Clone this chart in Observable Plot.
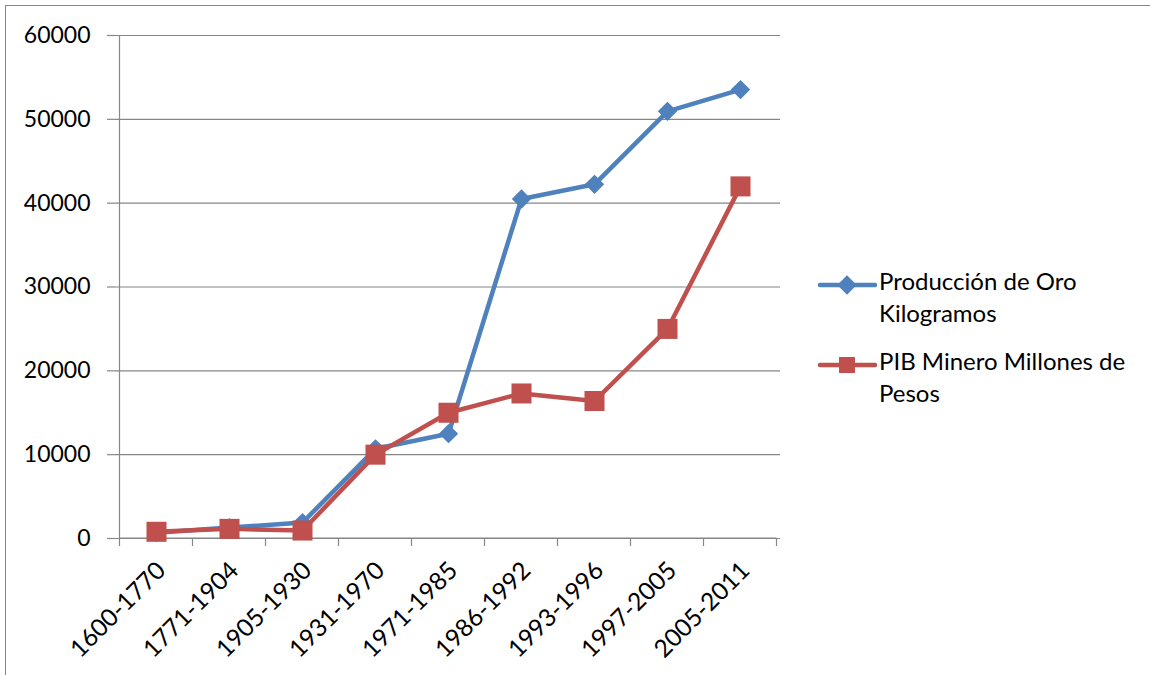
<!DOCTYPE html>
<html>
<head>
<meta charset="utf-8">
<script src="https://cdn.jsdelivr.net/npm/d3@7"></script>
<script src="https://cdn.jsdelivr.net/npm/@observablehq/plot@0.6"></script>
<style>
  html, body { margin: 0; padding: 0; background: #fff; }
  #wrap { position: relative; width: 1150px; height: 675px; overflow: hidden; font-family: Lato, "Open Sans", sans-serif; }
  #border { position: absolute; left: 5px; top: 5px; width: 1200px; height: 700px; border: 1.5px solid #868686; box-sizing: border-box; }
  #chart { position: absolute; left: 0; top: 0; }
  #legend { position: absolute; left: 815px; top: 265px; font-size: 24px; line-height: 32px; color: #000; }
  .item { display: flex; align-items: flex-start; margin-bottom: 16px; }
  .item svg { flex: none; margin-top: 0px; }
  .item span { margin-left: 2px; }
</style>
</head>
<body>
<div id="wrap">
  <div id="border"></div>
  <div id="chart"></div>
  <div id="legend"></div>
</div>
<script>
const categories = ["1600-1770","1771-1904","1905-1930","1931-1970","1971-1985","1986-1992","1993-1996","1997-2005","2005-2011"];
const oro = [700, 1300, 1900, 10700, 12500, 40500, 42250, 50950, 53550];
const pib = [800, 1150, 950, 10000, 15000, 17300, 16400, 25000, 42000];
const yTicks = [0, 10000, 20000, 30000, 40000, 50000, 60000];
const seriesNames = ["Producción de Oro Kilogramos", "PIB Minero Millones de Pesos"];
const legendLines = [["Producción de Oro", "Kilogramos"], ["PIB Minero Millones de", "Pesos"]];
const colors = ["#4F81BD", "#C0504D"];

const oroData = categories.map((c, i) => ({periodo: c, valor: oro[i]}));
const pibData = categories.map((c, i) => ({periodo: c, valor: pib[i]}));

const plot = Plot.plot({
  width: 1150, height: 675,
  marginLeft: 115, marginRight: 370, marginTop: 35, marginBottom: 137,
  style: {fontFamily: "Lato, 'Open Sans', sans-serif", fontSize: "23px", color: "#000", background: "transparent", overflow: "visible"},
  x: {type: "point", domain: categories, padding: 0.5, axis: null},
  y: {domain: [0, 60000], axis: null},
  marks: [
    Plot.gridY(yTicks, {stroke: "#868686", strokeOpacity: 1, strokeWidth: 1.2}),
    Plot.axisY(yTicks, {tickSize: 8, tickPadding: 17, stroke: "#868686", strokeWidth: 1.2, tickFormat: d => String(d), fontSize: 23, fill: "#000", label: null}),
    Plot.text(categories, {x: d => d, y: 0, text: d => d, rotate: -45, textAnchor: "end", dx: 5, dy: 28, fontSize: 24.5, fill: "#000"}),
    Plot.line(oroData, {x: "periodo", y: "valor", stroke: colors[0], strokeWidth: 4.5}),
    Plot.line(pibData, {x: "periodo", y: "valor", stroke: colors[1], strokeWidth: 4.5}),
    Plot.dot(oroData, {x: "periodo", y: "valor", symbol: "diamond2", r: 8.7, fill: colors[0], stroke: "none"}),
    Plot.dot(pibData, {x: "periodo", y: "valor", symbol: "square", r: 11.3, fill: colors[1], stroke: "none"})
  ]
});

// axis lines and category-boundary ticks from the Plot scales
const xs = plot.scale("x"), ys = plot.scale("y");
const step = xs.apply(categories[1]) - xs.apply(categories[0]);
const x0 = xs.apply(categories[0]) - step / 2;
const x1 = xs.apply(categories[categories.length - 1]) + step / 2;
const yb = ys.apply(0), yt = ys.apply(60000);
const gNode = document.createElementNS("http://www.w3.org/2000/svg", "g");
const firstLine = plot.querySelector('[aria-label="line"]');
if (firstLine && firstLine.parentNode) firstLine.parentNode.insertBefore(gNode, firstLine); else plot.appendChild(gNode);
const g = d3.select(gNode).attr("stroke", "#868686").attr("stroke-width", 1.2);
g.append("line").attr("x1", x0).attr("x2", x0).attr("y1", yt).attr("y2", yb);
g.append("line").attr("x1", x0).attr("x2", x1).attr("y1", yb).attr("y2", yb);
categories.forEach((c) => {
  const bx = xs.apply(c) - step / 2;
  g.append("line").attr("x1", bx).attr("x2", bx).attr("y1", yb).attr("y2", yb + 8);
});
g.append("line").attr("x1", x1).attr("x2", x1).attr("y1", yb).attr("y2", yb + 8);

document.getElementById("chart").appendChild(plot);

// legend
const legend = d3.select("#legend");
legendLines.forEach((lines, i) => {
  const item = legend.append("div").attr("class", "item");
  const s = item.append("svg").attr("width", 62).attr("height", 32);
  s.append("line").attr("x1", 5).attr("x2", 60).attr("y1", 20).attr("y2", 20).attr("stroke", colors[i]).attr("stroke-width", 4.5).attr("stroke-linecap", "round");
  if (i === 0) {
    s.append("path").attr("d", d3.symbol(d3.symbolDiamond2, Math.PI * 8.7 * 8.7)()).attr("transform", "translate(32,20)").attr("fill", colors[i]);
  } else {
    s.append("path").attr("d", d3.symbol(d3.symbolSquare, Math.PI * 9 * 9)()).attr("transform", "translate(32,20)").attr("fill", colors[i]);
  }
  item.append("span").html(lines.join("<br>"));
});
</script>
</body>
</html>
